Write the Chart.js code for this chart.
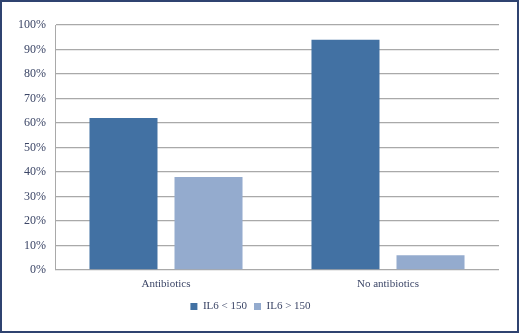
<!DOCTYPE html>
<html>
<head>
<meta charset="utf-8">
<script src="https://cdn.jsdelivr.net/npm/chart.js@4"></script>
<style>
  html, body { margin: 0; padding: 0; background: #fff; }
  #box { width: 519px; height: 333px; box-sizing: border-box; border: 2px solid #2f4370; }
</style>
</head>
<body>
<div id="box"><canvas id="myChart" width="515" height="329"></canvas></div>
<script>
var categories = ['Antibiotics', 'No antibiotics'];
var lowIL6 = [62, 94];   // IL6 < 150, %
var highIL6 = [38, 6];   // IL6 > 150, %
var yTicks = [0, 10, 20, 30, 40, 50, 60, 70, 80, 90, 100];

var font = "'Liberation Serif', serif";

var ctx = document.getElementById('myChart').getContext('2d');
var chart = new Chart(ctx, {
    type: 'bar',
    data: {
        labels: categories,
        datasets: [{
            label: 'IL6 < 150',
            backgroundColor: 'rgb(66, 113, 163)',
            data: lowIL6
        }, {
            label: 'IL6 > 150',
            backgroundColor: 'rgb(148, 171, 206)',
            data: highIL6
        }]
    },
    options: {
        responsive: false,
        animation: false,
        layout: { padding: { top: 23, right: 18, left: 0, bottom: 9 } },
        datasets: { bar: { categoryPercentage: 0.766, barPercentage: 0.8 } },
        plugins: {
            tooltip: { enabled: false },
            legend: {
                position: 'bottom',
                labels: {
                    boxWidth: 7, boxHeight: 7, padding: 7,
                    color: '#3b4566',
                    font: { family: font, size: 11 }
                }
            }
        },
        scales: {
            x: {
                grid: { display: false, drawTicks: false },
                border: { display: false },
                ticks: { color: '#3b4566', padding: 8, font: { family: font, size: 11 } },
                afterFit: function (s) { s.height = 24; }
            },
            y: {
                min: 0, max: 100,
                afterBuildTicks: function (s) { s.ticks = yTicks.map(function (v) { return { value: v }; }); },
                grid: { color: '#a9a9a9', lineWidth: 1.3, drawTicks: false },
                border: { display: true, color: '#a9a9a9', width: 1 },
                ticks: {
                    color: '#3b4566', padding: 9,
                    font: { family: font, size: 12 },
                    callback: function (v) { return v + '%'; }
                },
                afterFit: function (s) { s.width = 53; }
            }
        }
    }
});
</script>
</body>
</html>
